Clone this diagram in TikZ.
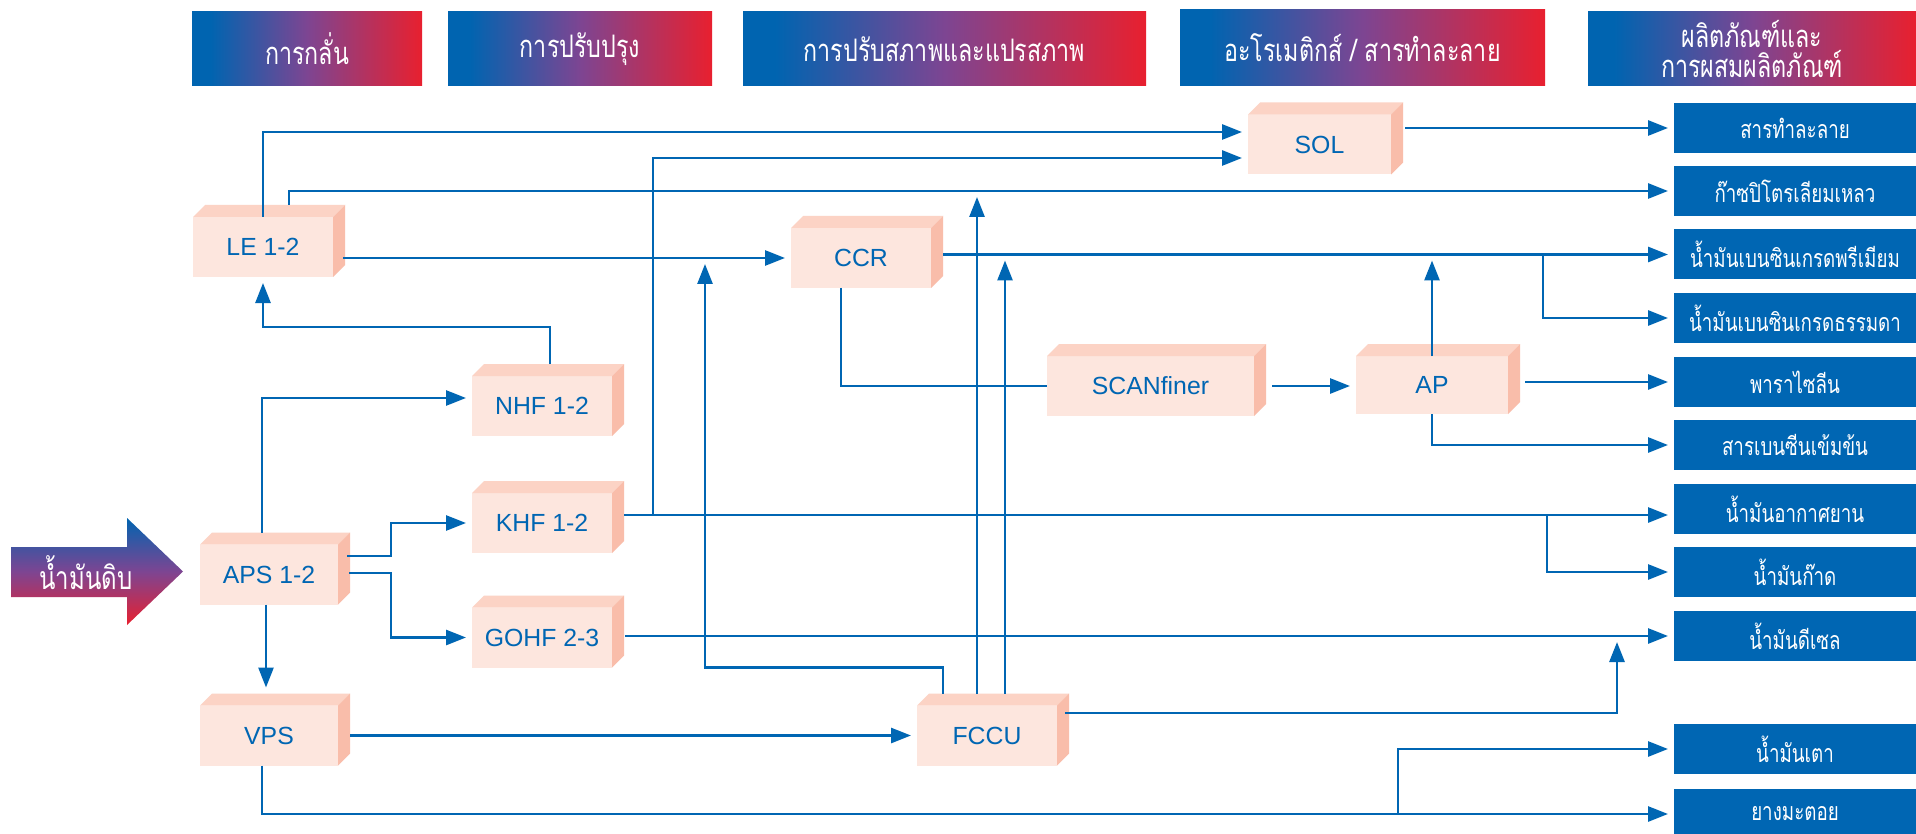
\documentclass[tikz,border=0pt]{standalone}
\usepackage{fontspec}
\setmainfont{Liberation Sans}
\newfontfamily\thaifont[Script=Thai,FakeStretch=0.75]{Loma}
\usetikzlibrary{arrows.meta,calc}

\definecolor{flowblue}{HTML}{0066B3}
\definecolor{unitfront}{HTML}{FDE6DE}
\definecolor{unittop}{HTML}{FCD3C5}
\definecolor{unitside}{HTML}{F9BDAA}
\definecolor{hdrblue}{HTML}{0064B0}
\definecolor{hdrpurple}{HTML}{7D4592}
\definecolor{hdrred}{HTML}{E8202F}

% the visible part of a shading is 25bp..75bp
\pgfdeclarehorizontalshading{hdrshade}{100bp}{color(0bp)=(hdrblue); color(29bp)=(hdrblue); color(50bp)=(hdrpurple); color(75bp)=(hdrred); color(100bp)=(hdrred)}
\pgfdeclareverticalshading{crudeshade}{100bp}{color(0bp)=(hdrred); color(25bp)=(hdrred); color(50bp)=(hdrpurple); color(75bp)=(hdrblue); color(100bp)=(hdrblue)}

\tikzset{
    header/.style={shading=hdrshade, text=white, minimum height=37pt, inner sep=0pt, outer sep=0pt,
        align=center, font=\thaifont\fontsize{15.5}{15}\selectfont},
    unit/.style={fill=unitfront, text=flowblue, minimum width=70pt, minimum height=30pt,
        inner sep=0pt, outer sep=0pt, font=\fontsize{12.4}{14}\selectfont},
    product/.style={fill=flowblue, text=white, minimum width=121pt, minimum height=25pt,
        inner sep=0pt, outer sep=0pt, font=\thaifont\fontsize{12.5}{14}\selectfont},
    flow/.style={draw=flowblue, line width=1.35pt, -{Triangle[length=10pt,width=7.5pt]}, shorten >=3pt},
    pipe/.style={draw=flowblue, line width=1.35pt}
}

\begin{document}
\begin{tikzpicture}[x=0.5pt, y=-0.5pt]
    \path[use as bounding box, fill=white] (0,0) rectangle (1916,834);

    % column headers
    \node[header, minimum width=115pt] (h1) at (307,49) {การกลั่น};
    \node[header, minimum width=132pt] (h2) at (580,49) {การปรับปรุง};
    \node[header, minimum width=201.5pt] (h3) at (944.5,49) {การปรับสภาพและแปรสภาพ};
    \node[header, minimum width=182.5pt, minimum height=38pt] (h4) at (1362.5,48) {อะโรเมติกส์ / สารทำละลาย};
    \node[header, minimum width=164pt] (h5) at (1752,49) {ผลิตภัณฑ์และ\\การผสมผลิตภัณฑ์};

    % crude oil
    \shade[shading=crudeshade] (11,547) -- (127,547) -- (127,518) -- (183,571.5)
        -- (127,625) -- (127,597) -- (11,597) -- cycle;
    \node[text=white, font=\thaifont\fontsize{16}{18}\selectfont] (crude) at (86,573) {น้ำมันดิบ};

    % units
    \node[unit] (le) at (263,247) {LE 1-2};
    \node[unit, minimum width=69pt] (aps) at (269,574.5) {APS 1-2};
    \node[unit] (nhf) at (542,406) {NHF 1-2};
    \node[unit] (khf) at (542,523) {KHF 1-2};
    \node[unit] (gohf) at (542,637.5) {GOHF 2-3};
    \node[unit, minimum width=69pt] (vps) at (269,735.5) {VPS};
    \node[unit] (ccr) at (861,258) {CCR};
    \node[unit] (fccu) at (987,735.5) {FCCU};
    \node[unit, minimum width=103.5pt] (scan) at (1150.5,386) {SCANfiner};
    \node[unit, minimum width=76pt, minimum height=29pt] (ap) at (1432,385) {AP};
    \node[unit, minimum width=71.5pt] (sol) at (1319.5,144.5) {SOL};

    \foreach \u in {le,aps,nhf,khf,gohf,vps,ccr,fccu,scan,ap,sol} {
        \fill[unittop] (\u.north west) -- ++(12,-12) -- ([shift={(12,-12)}]\u.north east) -- (\u.north east) -- cycle;
        \fill[unitside] (\u.north east) -- ++(12,-12) -- ([shift={(12,-12)}]\u.south east) -- (\u.south east) -- cycle;
    }

    % products
    \node[product] (p1) at (1795,128) {สารทำละลาย};
    \node[product] (p2) at (1795,191) {ก๊าซปิโตรเลียมเหลว};
    \node[product] (p3) at (1795,254.5) {น้ำมันเบนซินเกรดพรีเมียม};
    \node[product] (p4) at (1795,318) {น้ำมันเบนซินเกรดธรรมดา};
    \node[product] (p5) at (1795,382) {พาราไซลีน};
    \node[product] (p6) at (1795,445) {สารเบนซีนเข้มข้น};
    \node[product] (p7) at (1795,509) {น้ำมันอากาศยาน};
    \node[product] (p8) at (1795,572) {น้ำมันก๊าด};
    \node[product] (p9) at (1795,636) {น้ำมันดีเซล};
    \node[product] (p10) at (1795,749) {น้ำมันเตา};
    \node[product] (p11) at (1795,814) {ยางมะตอย};

    % distillation
    \draw[flow] ([xshift=-3.5pt,yshift=6pt]aps.north) |- ([yshift=4pt]nhf.west);
    \draw[flow] ([xshift=4.5pt,yshift=9.25pt]aps.east) -- ++(44,0) |- (khf.west);
    \draw[flow] ([xshift=5.5pt,yshift=0.75pt]aps.east) -- ++(42,0) |- (gohf.west);
    \draw[flow] ([xshift=-1.5pt]aps.south) -- ([xshift=-1.5pt,yshift=6pt]vps.north);
    \draw[flow] ([xshift=4pt,yshift=6pt]nhf.north) -- ++(0,-37) -| (le.south);
    \draw[flow] (le.north) |- ([yshift=6.25pt]sol.west);
    \draw[flow] ([xshift=13pt,yshift=6pt]le.north) |- (p2.west);
    \draw[flow] ($(le.east |- ccr.west)+(10,0)$) -- (ccr.west);

    % reforming and aromatics
    \draw[flow] ($(sol.east |- p1.west)+(14,0)$) -- (p1.west);
    \draw[flow] ($(ccr.east |- p3.west)+(12,0)$) -- (p3.west);
    \draw[flow] ($(p3.west)+(-131,0)$) |- (p4.west);
    \draw[flow] (ap.north) -- (ap.north |- p3.west);
    \draw[pipe] ($(ccr.south)+(-20,0)$) |- (scan.west);
    \draw[flow] ($(scan.east)+(18,0)$) -- (ap.west |- scan.east);
    \draw[flow] ($(ap.east |- p5.west)+(17,0)$) -- (p5.west);
    \draw[flow] (ap.south) |- (p6.west);

    % middle distillates
    \coordinate (jet) at ($(p7.west)+(0,6)$);
    \draw[flow] ($(khf.east |- jet)+(12,0)$) -- (jet);
    \draw[flow] ($(jet)+(-127,0)$) |- (p8.west);
    \draw[flow] ($(khf.east |- jet)+(41,0)$) |- ($(sol.west)+(0,13.5)$);
    \draw[flow] ($(gohf.east |- p9.west)+(13,0)$) -- (p9.west);

    % vacuum and cracking
    \draw[flow] ($(vps.east)+(12,0)$) -- (fccu.west);
    \draw[flow] ($(vps.south)+(-7,0)$) |- (p11.west);
    \draw[flow] ($(p11.west)+(-276,0)$) |- (p10.west);
    \draw[flow] ($(fccu.east)+(8,-22.5)$) -| ($(p9.west)+(-57,0)$);
    \draw[flow] ($(fccu.north)+(-44,-12)$) -- ++(0,-26) -| ($(ccr.west)+(-86,0)$);
    \draw[flow] ($(fccu.north)+(-10,-12)$) -- ($(fccu.north |- p2.west)+(-10,0)$);
    \draw[flow] ($(fccu.north)+(18,-12)$) -- ($(fccu.north |- p3.west)+(18,0)$);
\end{tikzpicture}
\end{document}
